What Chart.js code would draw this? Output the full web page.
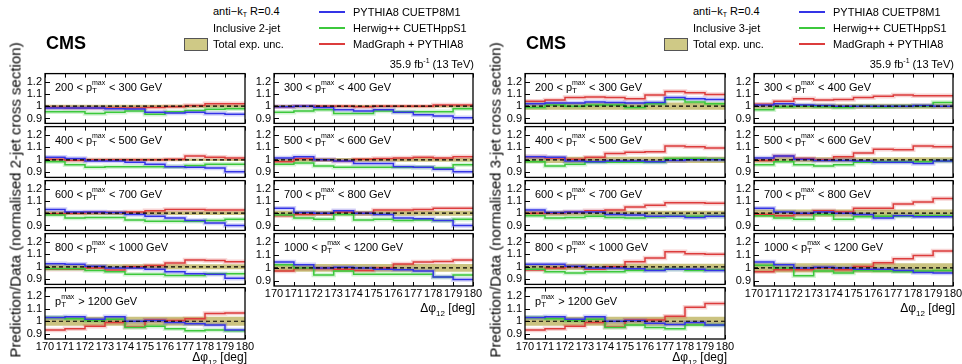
<!DOCTYPE html>
<html>
<head>
<meta charset="utf-8">
<script src="https://cdn.jsdelivr.net/npm/chart.js@4.4.1/dist/chart.umd.min.js"></script>
<style>
  body { margin: 0; width: 962px; height: 364px; overflow: hidden; position: relative; background: #fff;
         font-family: "Liberation Sans", Arial, Helvetica, sans-serif; color: #000; }
  canvas { position: absolute; }
  .t { position: absolute; white-space: nowrap; font-size: 11px; line-height: 1; }
  .t sub { font-size: 7px; vertical-align: -2px; line-height: 1; }
  .t sup { font-size: 7px; vertical-align: 5px; line-height: 1; }
  .cms { font-size: 18px; font-weight: bold; }
  .ytitle { font-size: 15px; }
  .xtitle { font-size: 12px; }
  .xtitle sub { font-size: 8px; vertical-align: -4px; }
  .ix { position: relative; display: inline-block; width: 14px; height: 1px; }
  .ix .up { position: absolute; left: 0; top: -11px; font-size: 7px; line-height: 1; }
  .ix .dn { position: absolute; left: 0; top: -3px; font-size: 8px; line-height: 1; }
  .swatch { position: absolute; }
</style>
</head>
<body>
<script>
// bins in delta phi_12 (deg) and the pT_max slices, left-to-right, top-to-bottom
const dphiEdges = [170, 171, 172, 173, 174, 175, 176, 177, 178, 179, 180];
const ptLow  = [200, 300, 400, 500, 600, 700, 800, 1000, 1200];
const ptHigh = [300, 400, 500, 600, 700, 800, 1000, 1200, null];
const yTicks = [0.9, 1, 1.1, 1.2];

// inclusive 2-jet: prediction / data per bin
const pythia2j = [
  [0.985, 0.985, 0.985, 0.98, 0.978, 0.95, 0.945, 0.95, 0.94, 0.935],
  [0.995, 1.0, 0.99, 0.97, 0.96, 0.97, 0.95, 0.93, 0.92, 0.905],
  [1.02, 1.01, 0.99, 0.99, 0.98, 0.965, 0.945, 0.94, 0.935, 0.905],
  [1.015, 1.025, 1.0, 0.99, 0.97, 0.97, 0.945, 0.94, 0.925, 0.905],
  [1.03, 1.01, 1.01, 1.005, 0.99, 0.975, 0.96, 0.94, 0.92, 0.9],
  [1.04, 1.005, 1.0, 1.02, 1.0, 0.99, 0.96, 0.955, 0.94, 0.9],
  [1.025, 1.02, 1.005, 0.99, 0.99, 0.98, 0.96, 0.945, 0.94, 0.91],
  [1.045, 1.025, 1.0, 1.005, 1.0, 0.99, 0.985, 0.975, 0.93, 0.91],
  [1.03, 1.035, 1.015, 1.035, 1.0, 1.005, 0.99, 0.98, 0.97, 0.93]
];
const herwig2j = [
  [0.955, 0.955, 0.94, 0.95, 0.96, 0.935, 0.955, 0.965, 0.975, 0.98],
  [0.95, 0.96, 0.97, 0.94, 0.94, 0.96, 0.955, 0.955, 0.955, 0.98],
  [0.985, 0.96, 0.94, 0.945, 0.945, 0.945, 0.945, 0.955, 0.965, 0.965],
  [0.965, 0.975, 0.95, 0.94, 0.94, 0.94, 0.94, 0.94, 0.935, 0.96],
  [0.985, 0.96, 0.965, 0.965, 0.945, 0.935, 0.935, 0.935, 0.94, 0.95],
  [0.985, 0.96, 0.95, 0.99, 0.945, 0.95, 0.94, 0.945, 0.94, 0.95],
  [0.985, 0.985, 0.97, 0.96, 0.94, 0.94, 0.93, 0.93, 0.945, 0.945],
  [1.025, 1.0, 0.945, 0.975, 0.95, 0.95, 0.95, 0.95, 0.93, 0.945],
  [1.03, 1.02, 1.005, 1.015, 0.95, 0.96, 0.94, 0.925, 0.93, 0.925]
];
const madgraph2j = [
  [0.99, 0.985, 0.985, 0.985, 0.985, 0.99, 0.995, 1.005, 1.02, 1.02],
  [0.995, 1.0, 1.0, 1.0, 0.995, 1.0, 1.0, 1.0, 1.01, 1.01],
  [1.005, 0.995, 1.0, 1.0, 1.0, 1.0, 1.005, 1.03, 1.02, 1.015],
  [0.985, 1.01, 1.0, 0.99, 1.005, 1.01, 1.015, 1.02, 1.015, 1.025],
  [0.995, 1.0, 1.005, 1.005, 1.01, 1.02, 1.03, 1.03, 1.025, 1.025],
  [0.98, 0.99, 0.995, 1.01, 1.0, 1.025, 1.025, 1.03, 1.04, 1.04],
  [0.98, 0.98, 0.99, 0.975, 1.0, 1.01, 1.03, 1.055, 1.05, 1.04],
  [0.975, 0.995, 0.995, 0.99, 0.98, 1.0, 1.03, 1.045, 1.05, 1.06],
  [0.93, 0.94, 0.96, 0.99, 0.955, 1.01, 1.005, 1.02, 1.06, 1.065]
];
const unc2j = [0.012, 0.01, 0.01, 0.015, 0.015, 0.02, 0.02, 0.03, 0.035];

// inclusive 3-jet
const pythia3j = [
  [1.02, 1.025, 1.025, 1.035, 1.03, 1.025, 1.03, 1.07, 1.06, 1.055],
  [1.01, 1.02, 1.01, 1.005, 1.0, 1.0, 1.0, 1.0, 1.005, 1.0],
  [1.025, 1.02, 0.99, 0.985, 0.99, 0.99, 0.985, 0.995, 1.0, 1.0],
  [1.015, 1.03, 1.005, 0.995, 0.995, 0.99, 0.98, 0.98, 0.97, 0.99],
  [1.025, 1.005, 1.01, 1.01, 0.99, 0.985, 0.975, 0.975, 0.965, 0.975],
  [1.04, 1.01, 1.0, 1.01, 1.0, 0.99, 0.96, 0.98, 0.97, 0.97],
  [1.02, 1.02, 1.005, 0.99, 0.99, 0.985, 0.97, 0.98, 0.98, 0.97],
  [1.045, 1.025, 1.0, 1.005, 1.0, 0.99, 0.99, 0.98, 0.965, 0.96],
  [1.03, 1.035, 1.015, 1.035, 1.0, 1.005, 0.985, 0.975, 0.99, 0.97]
];
const herwig3j = [
  [0.99, 1.01, 1.0, 1.01, 1.01, 0.99, 1.02, 1.055, 1.035, 1.02],
  [0.97, 0.995, 1.0, 0.995, 0.99, 1.0, 0.995, 1.0, 1.0, 1.03],
  [0.985, 0.95, 0.965, 0.98, 0.98, 0.98, 0.98, 1.01, 1.01, 1.005],
  [0.96, 0.985, 0.96, 0.95, 0.96, 0.98, 0.985, 0.985, 0.985, 0.99],
  [0.98, 0.96, 0.965, 0.975, 0.965, 0.96, 0.97, 0.975, 0.975, 0.975],
  [0.98, 0.96, 0.95, 0.99, 0.95, 0.97, 0.975, 0.975, 0.98, 0.98],
  [0.98, 0.96, 0.95, 0.96, 0.96, 0.97, 0.975, 0.98, 0.97, 0.975],
  [1.02, 1.0, 0.94, 0.975, 0.96, 0.98, 0.975, 0.97, 0.975, 0.98],
  [1.03, 1.02, 1.005, 1.015, 0.95, 0.97, 0.95, 0.94, 0.97, 0.97]
];
const madgraph3j = [
  [1.04, 1.05, 1.07, 1.075, 1.07, 1.06, 1.09, 1.12, 1.11, 1.095],
  [1.015, 1.04, 1.06, 1.05, 1.055, 1.07, 1.08, 1.09, 1.085, 1.085],
  [1.025, 1.015, 1.005, 1.02, 1.05, 1.06, 1.065, 1.11, 1.105, 1.095],
  [0.995, 1.03, 1.01, 1.0, 1.025, 1.055, 1.085, 1.08, 1.11, 1.105],
  [1.0, 1.0, 1.01, 1.02, 1.025, 1.05, 1.065, 1.085, 1.085, 1.08],
  [0.99, 0.98, 0.995, 1.02, 1.01, 1.04, 1.04, 1.075, 1.09, 1.12],
  [0.975, 0.99, 1.0, 0.98, 1.0, 1.04, 1.07, 1.12, 1.105, 1.1],
  [0.97, 0.985, 0.985, 1.0, 0.985, 1.01, 1.04, 1.07, 1.095, 1.13],
  [0.93, 0.94, 0.96, 0.99, 0.955, 1.01, 1.01, 1.04, 1.11, 1.14]
];
const unc3j = [0.03, 0.02, 0.025, 0.02, 0.02, 0.03, 0.025, 0.035, 0.035];

const figures = [
  { ox: 0,   jets: '2-jet', pythia: pythia2j, herwig: herwig2j, madgraph: madgraph2j, unc: unc2j },
  { ox: 480, jets: '3-jet', pythia: pythia3j, herwig: herwig3j, madgraph: madgraph3j, unc: unc3j }
];

const colors = { pythia: '#3434e6', herwig: '#3cc83c', madgraph: '#dc3c3c' };
const halos = { pythia: 'rgba(52,52,230,0.22)', herwig: 'rgba(60,200,60,0.22)', madgraph: 'rgba(220,60,60,0.22)' };
const bandColor = 'rgba(185,175,85,0.75)';

// panel frame geometry
const colLeft = [45, 274];
const colWidth = [200, 199];
const rowTop = [72, 125, 179, 232, 286, 339];

Chart.defaults.font.family = '"Liberation Sans", Arial, Helvetica, sans-serif';
Chart.defaults.color = '#000';

// histogram points: one per bin edge, last value repeated to close the final bin
function stepPoints(vals) {
  const pts = vals.map((v, k) => ({ x: dphiEdges[k], y: v }));
  pts.push({ x: dphiEdges[vals.length], y: vals[vals.length - 1] });
  return pts;
}

function stepLine(vals, color, width, order) {
  return { data: stepPoints(vals), borderColor: color, borderWidth: width, stepped: true,
           fill: false, pointRadius: 0, order: order };
}

// black frame with inward ticks, ROOT style
const framePlugin = {
  id: 'frame',
  afterDatasetsDraw(chart) {
    const { ctx, chartArea: a, scales } = chart;
    ctx.save();
    ctx.strokeStyle = '#000';
    ctx.lineWidth = 1;
    ctx.beginPath();
    dphiEdges.forEach(v => {
      const px = Math.round(scales.x.getPixelForValue(v)) + 0.5;
      ctx.moveTo(px, a.bottom); ctx.lineTo(px, a.bottom - 4);
      ctx.moveTo(px, a.top); ctx.lineTo(px, a.top + 4);
    });
    yTicks.forEach(v => {
      const py = Math.round(scales.y.getPixelForValue(v)) + 0.5;
      ctx.moveTo(a.left, py); ctx.lineTo(a.left + 5, py);
    });
    ctx.stroke();
    ctx.lineWidth = 1.3;
    ctx.strokeRect(a.left, a.top, a.right - a.left, a.bottom - a.top);
    ctx.restore();
  }
};

function put(html, x, y, cls, right) {
  const d = document.createElement('div');
  d.className = 't ' + (cls || '');
  d.innerHTML = html;
  d.style.left = x + 'px';
  d.style.top = y + 'px';
  d.style.transform = right ? 'translate(-100%, -50%)' : 'translateY(-50%)';
  document.body.appendChild(d);
  return d;
}

function swatch(x, y, w, h, style) {
  const d = document.createElement('div');
  d.className = 'swatch';
  Object.assign(d.style, { left: x + 'px', top: y + 'px', width: w + 'px', height: h + 'px' }, style);
  document.body.appendChild(d);
}

const ptSym = 'p<span class="ix"><span class="up">max</span><span class="dn">T</span></span>';

function makePanel(fig, i) {
  const col = i % 2, row = Math.floor(i / 2);
  const left = fig.ox + colLeft[col], w = colWidth[col];
  const top = rowTop[row], h = rowTop[row + 1] - top;
  const axis = (i === 7 || i === 8);

  const cv = document.createElement('canvas');
  const cw = w + 34 + 14, ch = h + 8 + (axis ? 18 : 8);
  cv.width = cw; cv.height = ch;
  cv.style.left = (left - 34) + 'px';
  cv.style.top = (top - 8) + 'px';
  cv.style.width = cw + 'px';
  cv.style.height = ch + 'px';
  document.body.appendChild(cv);

  const u = fig.unc[i];
  const lo = fig.pythia[i].map(() => 1 - u);
  const hi = fig.pythia[i].map(() => 1 + u);

  const datasets = [
    { data: [{ x: 170, y: 1 }, { x: 180, y: 1 }], borderColor: '#000', borderWidth: 1.2,
      borderDash: [4, 3], pointRadius: 0, fill: false, order: 0 },
    stepLine(fig.pythia[i], colors.pythia, 1.5, 1),
    stepLine(fig.herwig[i], colors.herwig, 1.5, 1),
    stepLine(fig.madgraph[i], colors.madgraph, 1.5, 1),
    stepLine(fig.pythia[i], halos.pythia, 4.5, 2),
    stepLine(fig.herwig[i], halos.herwig, 4.5, 2),
    stepLine(fig.madgraph[i], halos.madgraph, 4.5, 2),
    { data: stepPoints(lo), borderColor: 'rgba(0,0,0,0)', borderWidth: 1, stepped: true,
      pointRadius: 0, fill: false, order: 4 },
    { data: stepPoints(hi), borderColor: 'rgba(0,0,0,0)', borderWidth: 1, stepped: true,
      pointRadius: 0, fill: '-1', backgroundColor: bandColor, order: 4 }
  ];

  new Chart(cv, {
    type: 'line',
    data: { datasets: datasets },
    plugins: [framePlugin],
    options: {
      responsive: false,
      maintainAspectRatio: false,
      animation: false,
      events: [],
      layout: { padding: { top: 8, right: 14, bottom: axis ? 0 : 8, left: 0 } },
      plugins: { legend: { display: false }, tooltip: { enabled: false } },
      scales: {
        x: {
          type: 'linear', min: 170, max: 180, display: axis,
          grid: { display: false, drawTicks: false }, border: { display: false },
          ticks: { stepSize: 1, autoSkip: false, maxRotation: 0, minRotation: 0, padding: 1,
                   font: { size: 11 }, callback: v => String(v) },
          afterFit: s => { s.height = axis ? 18 : 0; }
        },
        y: {
          type: 'linear', min: 0.86, max: 1.265,
          grid: { display: false, drawTicks: false }, border: { display: false },
          ticks: { stepSize: 0.1, includeBounds: false, padding: 3, font: { size: 11 },
                   callback: v => String(Math.round(v * 10) / 10) },
          afterFit: s => { s.width = 34; }
        }
      }
    }
  });

  const label = ptHigh[i] === null
    ? ptSym + ' &gt; ' + ptLow[i] + ' GeV'
    : ptLow[i] + ' &lt; ' + ptSym + ' &lt; ' + ptHigh[i] + ' GeV';
  put(label, left + 10, top + 15);
}

figures.forEach(fig => {
  const ox = fig.ox;
  for (let i = 0; i < 9; i++) makePanel(fig, i);

  put('CMS', ox + 46, 43, 'cms');
  put('anti\u2212k<sub>T</sub> R=0.4', ox + 213, 12);
  put('Inclusive ' + fig.jets, ox + 213, 28);
  swatch(ox + 184, 38, 22, 11, { background: '#cfc986', border: '1px solid #555' });
  put('Total exp. unc.', ox + 213, 44);

  [['pythia', 'PYTHIA8 CUETP8M1', 11], ['herwig', 'Herwig++ CUETHppS1', 27],
   ['madgraph', 'MadGraph + PYTHIA8', 43]].forEach(([key, text, y]) => {
    swatch(ox + 319, y, 26, 1.5, { background: colors[key] });
    put(text, ox + 353, y + 1);
  });

  put('35.9 fb<sup>-1</sup> (13 TeV)', ox + 474, 63, '', true);

  const yt = put('Prediction/Data (normalised ' + fig.jets + ' cross section)', ox + 15, 200, 'ytitle');
  yt.style.transform = 'translate(-50%, -50%) rotate(-90deg)';

  put('\u0394\u03c6<sub>12</sub> [deg]', ox + 247, 359, 'xtitle', true);
  put('\u0394\u03c6<sub>12</sub> [deg]', ox + 475, 310, 'xtitle', true);
});
</script>
</body>
</html>
